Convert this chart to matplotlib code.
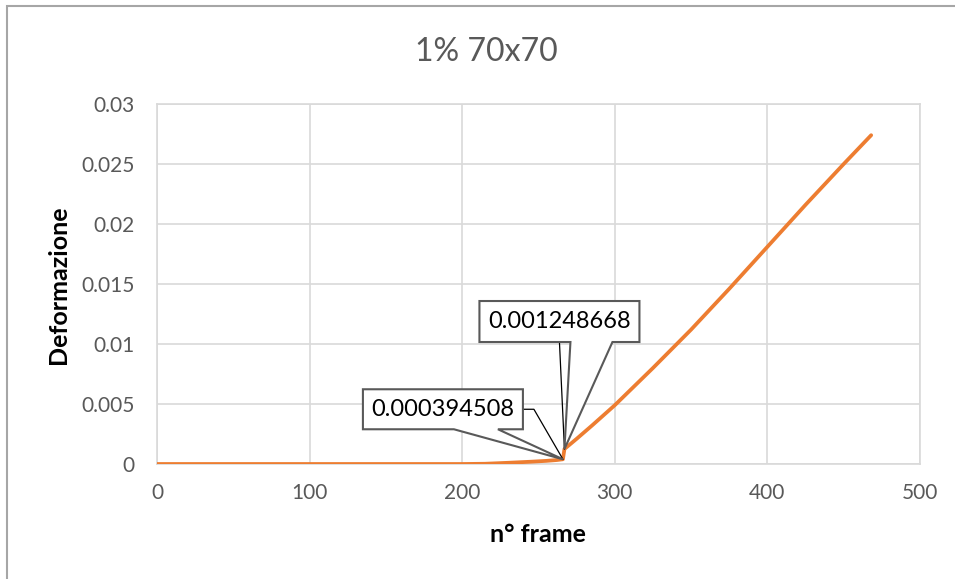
import matplotlib
matplotlib.use("Agg")
import matplotlib.pyplot as plt
from matplotlib.patches import Polygon, Rectangle
from matplotlib.transforms import IdentityTransform
from matplotlib.lines import Line2D

# ---- data ----
title = "1% 70x70"
x_label = "n° frame"
y_label = "Deformazione"
frames = [0, 50, 100, 150, 200, 215, 230, 245, 255, 262, 266, 267, 275, 285,
          300, 325, 350, 375, 400, 425, 450, 468]
strain = [0, 0, 0, 0, 0, 0.00002, 0.0001, 0.00019, 0.00026, 0.00033,
          0.000394508, 0.001248668, 0.0021, 0.0032, 0.0049, 0.0080, 0.0112,
          0.0146, 0.0181, 0.0216, 0.0250, 0.0274]
x_ticks = [0, 100, 200, 300, 400, 500]
y_ticks = [0, 0.005, 0.01, 0.015, 0.02, 0.025, 0.03]
y_tick_labels = ["0", "0.005", "0.01", "0.015", "0.02", "0.025", "0.03"]
label_frames = [266, 267]
label_values = [0.000394508, 0.001248668]
label_texts = ["0.000394508", "0.001248668"]

plt.rcParams['font.family'] = ['Lato', 'DejaVu Sans']

W, H = 955, 579
fig = plt.figure(figsize=(W / 100, H / 100), dpi=100)
ax = fig.add_axes([157 / W, (H - 464) / H, (920 - 157) / W, (464 - 104) / H])

ax.plot(frames, strain, color="#ED7D31", linewidth=2.7, solid_capstyle="round",
        solid_joinstyle="round", zorder=3)

ax.set_xlim(0, 500)
ax.set_ylim(0, 0.03)
ax.set_xticks(x_ticks)
ax.set_yticks(y_ticks)
ax.set_yticklabels(y_tick_labels)
ax.grid(True, color="#D9D9D9", linewidth=1.2)
ax.set_axisbelow(True)
for s in ax.spines.values():
    s.set_color("#D9D9D9")
    s.set_linewidth(1.2)
ax.tick_params(length=0, labelsize=15, labelcolor="#595959")
ax.tick_params(axis="x", pad=14)
ax.tick_params(axis="y", pad=16)

fig.text(486 / W, (H - 52) / H, title, ha="center", va="center",
         fontsize=23, color="#595959")
fig.text(538 / W, (H - 535) / H, x_label, ha="center", va="center",
         fontsize=18, fontweight="bold", color="black")
fig.text(58 / W, (H - 285) / H, y_label, ha="center", va="center",
         fontsize=18, fontweight="bold", color="black", rotation=90)

# outer chart border
fig.add_artist(Rectangle((6.5 / W, -0.05), 1.2, (H - 5.5) / H + 0.05,
                         transform=fig.transFigure, fill=False,
                         edgecolor="#A6A6A6", linewidth=1.5))

# ---- callouts (pixel geometry relative to the data point) ----
callouts = [
    dict(box=(-200, -40, 30, 70), wedge=(-109, -65), leader=[(-40, 50), (-29, 50), (0, 0)]),
    dict(box=(-85, 75, 107, 148), wedge=(6, 48), leader=[(-5, 107), (0, 0)]),
]
fig.canvas.draw()
for fx, fy, txt, c in zip(label_frames, label_values, label_texts, callouts):
    px, py = ax.transData.transform((fx, fy))
    l, r, b, t = c["box"]
    w0, w1 = c["wedge"]
    verts = [(px + l, py + b), (px + w0, py + b), (px, py), (px + w1, py + b),
             (px + r, py + b), (px + r, py + t), (px + l, py + t)]
    poly = Polygon(verts, closed=True, facecolor="white", edgecolor="#595959",
                   linewidth=1.5, transform=IdentityTransform(), zorder=5,
                   clip_on=False)
    fig.add_artist(poly)
    lx = [px + dx for dx, dy in c["leader"]]
    ly = [py + dy for dx, dy in c["leader"]]
    fig.add_artist(Line2D(lx, ly, color="black", linewidth=0.9,
                          transform=IdentityTransform(), zorder=4))
    fig.text((px + (l + r) / 2) / W, (py + (b + t) / 2) / H, txt,
             ha="center", va="center", fontsize=17, color="black", zorder=6)

fig.savefig("out.png", dpi=100)
